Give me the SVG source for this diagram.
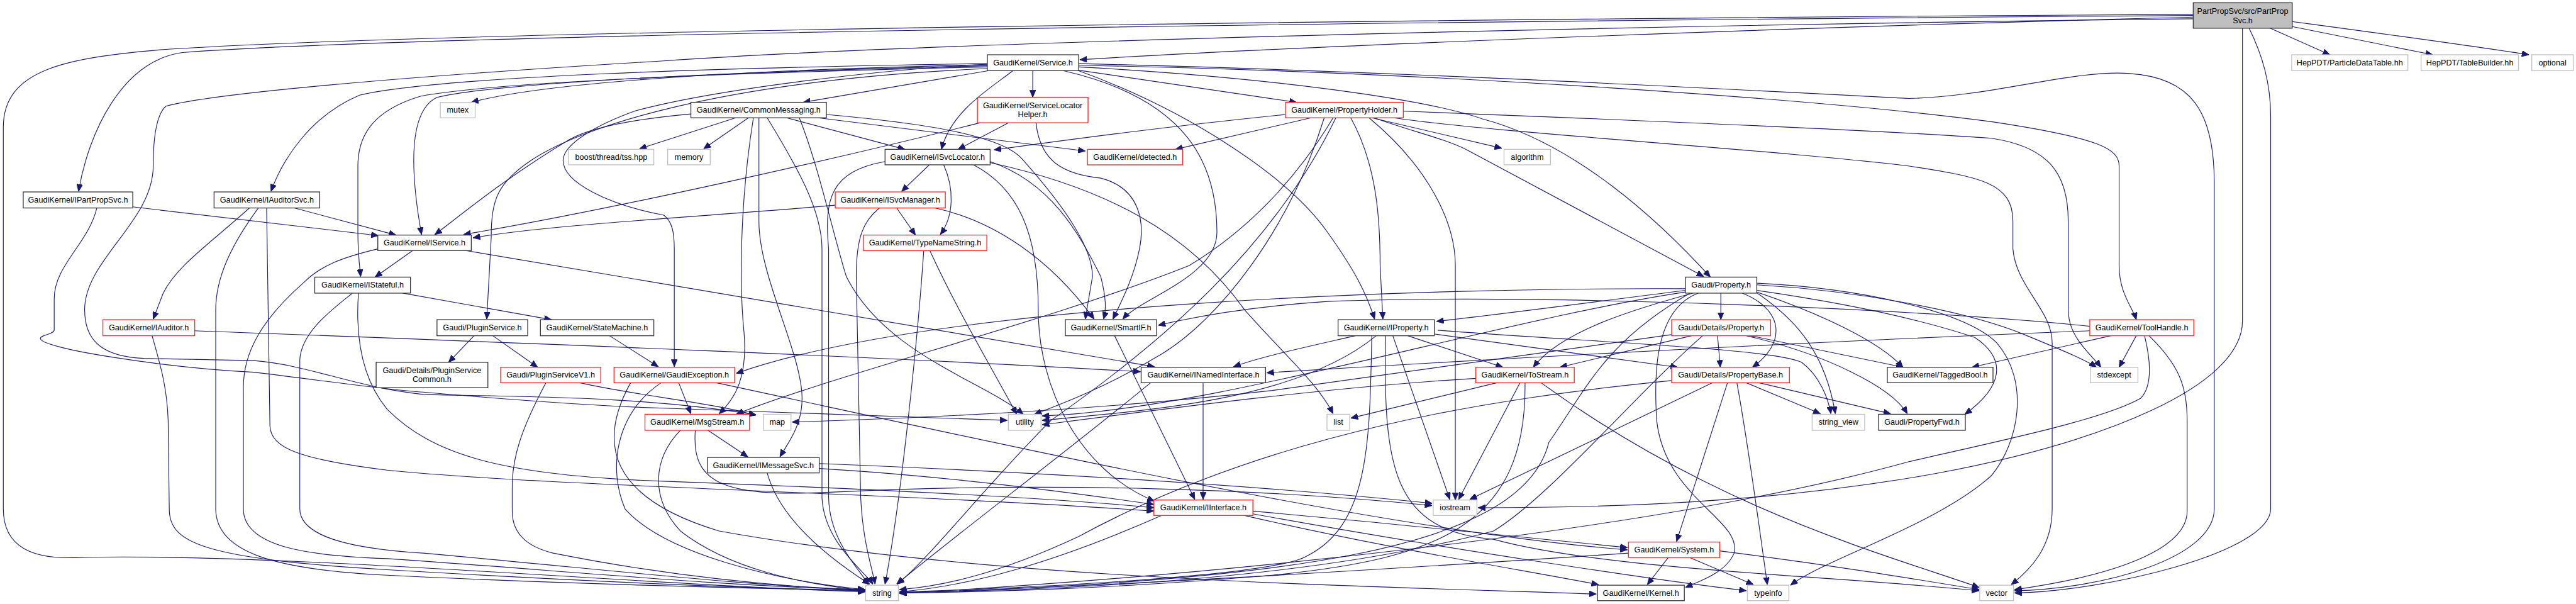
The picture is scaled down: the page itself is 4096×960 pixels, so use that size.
<svg xmlns="http://www.w3.org/2000/svg" width="4096" height="960" viewBox="0 0 4096 960">
<defs>
<marker id="a" viewBox="0 0 13 11" refX="13" refY="5.5" markerWidth="13" markerHeight="11" markerUnits="userSpaceOnUse" orient="auto"><path d="M0,0 L13,5.5 L0,11 z" fill="#191970" stroke="#191970" stroke-width="1"/></marker>
<style>
.n rect{fill:#fff;stroke-width:1.5}
.k rect{stroke:#333}
.r rect{stroke:#ff2020}
.g rect{stroke:#bfbfbf}
text{font-family:"Liberation Sans",Arial,sans-serif;font-size:14.4px;text-anchor:middle;fill:#000}
.e path{fill:none;stroke:#191970;stroke-width:1.3;marker-end:url(#a)}
</style>
</defs>
<rect width="4096" height="960" fill="#fff"/>
<g transform="scale(0.87954,0.87912)">
<g id="connectors" class="e">
<path d="M3965,31 C3400,45 2400,80 1952,108"/>
<path d="M3965,28 C2600,38 800,60 330,95 C220,110 160,240 142,346"/>
<path d="M3965,26 C2600,34 800,55 290,90 C120,105 6,125 6,230 L6,920 C6,990 60,1012 140,1008 C500,998 1200,1060 1564,1070"/>
<path d="M3965,34 C3000,45 1700,75 1200,110 C700,140 380,170 300,192 C285,205 277,240 277,300 C277,400 153,470 153,560 C153,620 190,645 260,648 L459,652 C560,660 640,700 765,713 C950,718 1150,715 1367,750"/>
<path d="M4104,51 L4212,99"/>
<path d="M4144,48 L4398,99"/>
<path d="M4144,39 C4300,60 4450,80 4572,99"/>
<path d="M4054,51 L4054,580 C4054,700 3800,800 3500,856 C3200,910 2900,918 2672,918"/>
<path d="M4066,51 C4090,100 4105,150 4105,210 L4105,920 C4105,1000 3800,1070 3642,1072"/>
<path d="M1785,117 C1400,125 1000,145 852,185"/>
<path d="M1786,128 L1452,185"/>
<path d="M1867,128 L1867,176"/>
<path d="M1950,127 L2344,185"/>
<path d="M1785,115 C1300,122 800,138 650,172 C560,210 510,290 490,346"/>
<path d="M1785,119 C1300,130 900,150 790,176 C740,200 740,300 762,424"/>
<path d="M1785,121 C1300,132 900,148 760,174 C680,198 647,240 647,300 L647,420 C647,460 650,480 652,500"/>
<path d="M1831,128 C1790,160 1720,200 1702,270"/>
<path d="M1923,128 C2150,180 2200,300 2200,420 C2200,500 2060,540 2030,577"/>
<path d="M1950,121 C2300,140 2580,180 2680,215 C2850,260 3000,400 3092,501"/>
<path d="M1945,126 C2150,200 2330,320 2400,420 C2450,490 2470,530 2485,577"/>
<path d="M1950,118 C2600,130 3300,180 3600,220 C3800,250 3831,270 3831,300 L3831,480 C3831,530 3855,555 3862,578"/>
<path d="M1950,115 C2500,128 3100,160 3450,178 C3600,175 3750,125 3850,133 C3960,140 4003,200 4003,330 L4003,920 C4003,1010 3800,1065 3642,1068"/>
<path d="M1785,116 C1600,125 1300,160 1150,200 C1080,225 1018,260 1018,290 C1018,330 1100,370 1200,389 C1215,400 1219,420 1219,450 L1219,663"/>
<path d="M1785,124 C1300,145 1050,230 960,290 C900,330 888,360 888,430 L880,577"/>
<path d="M1330,213 L1156,269"/>
<path d="M1353,213 L1272,269"/>
<path d="M1422,213 L1636,270"/>
<path d="M1479,213 L1962,273"/>
<path d="M1249,206 C1150,215 1070,230 1030,252 C900,330 820,400 786,424"/>
<path d="M1362,213 C1340,350 1335,500 1345,600 C1352,680 1330,720 1300,748"/>
<path d="M1372,213 L1372,400 C1372,500 1450,640 1450,720 C1450,770 1425,800 1410,826"/>
<path d="M1387,213 C1440,300 1486,380 1486,450 L1486,900 C1490,980 1560,1030 1578,1056"/>
<path d="M1494,207 C1700,225 1820,250 1850,290 C1930,380 1975,450 1975,500 L1962,577"/>
<path d="M1445,213 C1480,300 1505,420 1530,500 C1600,640 1780,690 1850,749"/>
<path d="M1823,222 L1732,270"/>
<path d="M1772,222 C1500,290 1100,380 838,424"/>
<path d="M1873,222 C1880,290 1920,315 1990,322 C2060,340 2070,400 2060,450 C2050,500 2030,540 2012,577"/>
<path d="M1680,298 L1630,346"/>
<path d="M1706,298 C1725,340 1725,390 1700,424"/>
<path d="M1790,292 C1900,330 1950,420 1990,500 C2000,540 2000,560 1995,577"/>
<path d="M1600,292 C1500,310 1490,360 1498,450 L1498,900 C1500,980 1555,1030 1570,1057"/>
<path d="M1760,298 C1840,340 1877,420 1877,560 C1877,700 1950,850 2087,906"/>
<path d="M1790,294 C2000,340 2150,420 2250,560 C2320,640 2380,690 2410,748"/>
<path d="M1510,371 C1300,390 1000,405 855,430"/>
<path d="M1621,376 L1655,425"/>
<path d="M1590,376 C1560,400 1548,430 1548,500 L1556,900 C1560,980 1575,1020 1582,1056"/>
<path d="M1690,376 C1800,400 1900,470 1978,577"/>
<path d="M1670,453 C1660,600 1630,900 1600,1056"/>
<path d="M1681,453 C1730,560 1790,660 1838,749"/>
<path d="M2370,213 L2125,270"/>
<path d="M2324,207 C2100,230 1950,250 1797,271"/>
<path d="M2480,213 L2715,268"/>
<path d="M2442,213 C2490,300 2495,400 2495,480 L2500,577"/>
<path d="M2475,213 C2580,300 2631,400 2631,480 L2631,904"/>
<path d="M2484,213 C2560,240 2610,250 2652,271 L3080,500"/>
<path d="M2537,201 C2900,215 3400,235 3600,250 C3700,265 3739,310 3739,400 L3739,560 C3739,610 3780,640 3798,664"/>
<path d="M2520,213 C2700,240 3200,270 3450,300 C3580,320 3639,330 3639,400 L3639,450 C3645,520 3710,560 3710,620 L3710,920 C3710,990 3670,1030 3636,1057"/>
<path d="M2410,213 C2340,330 2250,420 2150,480 C1900,580 1500,680 1331,749"/>
<path d="M2415,213 C2300,450 2100,620 1900,760 C1780,880 1680,1010 1622,1056"/>
<path d="M2394,213 C2330,420 2200,580 2100,640 C2000,700 1920,730 1870,749"/>
<path d="M240,374 L684,426"/>
<path d="M175,376 C160,440 98,480 98,540 L98,596 C98,605 73,605 73,612 C73,630 300,665 459,673 C600,690 700,705 765,709 C950,725 1100,735 1200,738 C1500,748 1700,755 1821,760"/>
<path d="M532,376 L716,425"/>
<path d="M451,376 C380,440 320,480 295,530 L277,577"/>
<path d="M467,376 C420,440 390,500 390,560 L390,920 C390,1000 500,1030 700,1040 C1000,1055 1300,1062 1564,1068"/>
<path d="M482,376 L488,770 C490,810 540,830 700,850 C1000,880 1600,890 2086,924"/>
<path d="M746,453 L678,501"/>
<path d="M842,453 L2087,663"/>
<path d="M683,450 C620,465 580,480 550,510 C470,580 440,640 440,700 L440,920 C440,990 560,1005 700,1010 C1000,1030 1300,1060 1564,1066"/>
<path d="M728,530 L997,578"/>
<path d="M648,530 C643,600 650,680 700,740 C780,820 900,860 1200,870 C1600,885 1900,900 2086,918"/>
<path d="M637,530 C600,560 545,600 542,650 L542,920 C542,960 600,990 765,1000 C1100,1030 1350,1060 1564,1066"/>
<path d="M352,598 C800,615 1500,640 2062,672"/>
<path d="M275,607 C290,660 302,700 304,760 L306,920 C306,980 360,1010 700,1030 C1000,1048 1300,1062 1564,1068"/>
<path d="M857,607 L811,655"/>
<path d="M891,607 L972,664"/>
<path d="M1102,607 L1190,663"/>
<path d="M987,692 C940,780 926,830 926,880 L926,924 C926,970 960,990 1000,1000 C1200,1040 1400,1060 1564,1068"/>
<path d="M1048,692 C1150,715 1300,730 1366,751"/>
<path d="M1227,692 L1249,748"/>
<path d="M1195,692 C1110,750 1100,850 1130,920 C1200,1000 1400,1050 1564,1066"/>
<path d="M1295,692 C1800,800 2500,960 2942,994"/>
<path d="M1140,692 C1080,800 1100,900 1300,960 C1800,1050 2500,1060 2886,1074"/>
<path d="M1280,778 L1352,826"/>
<path d="M1230,778 C1180,830 1175,900 1230,960 C1320,1030 1450,1055 1564,1068"/>
<path d="M1257,778 C1250,870 1300,900 1500,890 C1900,870 2300,885 2589,914"/>
<path d="M1387,855 C1410,940 1500,1010 1572,1056"/>
<path d="M1481,847 C1700,860 1900,885 2086,912"/>
<path d="M1481,838 C1900,855 2300,880 2589,910"/>
<path d="M2015,607 L2160,903"/>
<path d="M2175,692 L2175,903"/>
<path d="M2080,692 C1950,800 1750,950 1621,1056"/>
<path d="M2265,924 C2500,945 2800,975 2942,990"/>
<path d="M2250,932 C2500,990 2750,1030 2890,1057"/>
<path d="M2100,932 C1900,1020 1750,1060 1626,1070"/>
<path d="M2265,929 C2600,990 3000,1050 3157,1068"/>
<path d="M2545,607 L2717,664"/>
<path d="M2594,604 L3033,664"/>
<path d="M2450,607 C2350,630 2280,645 2230,663"/>
<path d="M2518,607 L2621,903"/>
<path d="M2480,607 C2476,800 2476,950 2361,1006 C2300,1040 1900,1062 1626,1070"/>
<path d="M2488,607 C2350,720 2100,740 1884,760"/>
<path d="M2505,607 C2500,850 2520,960 2700,975 C2900,1030 3300,1040 3578,1068"/>
<path d="M2599,597 C2900,620 3200,630 3257,655 C3290,680 3305,720 3310,748"/>
<path d="M3111,530 L3111,578"/>
<path d="M3150,530 C3225,560 3230,620 3168,664"/>
<path d="M3047,525 C2850,550 2700,570 2597,581"/>
<path d="M3060,530 C2950,560 2820,600 2772,664"/>
<path d="M3047,522 C2600,520 1700,545 1331,675"/>
<path d="M3047,528 C2700,580 2200,740 1884,752"/>
<path d="M3055,530 C2900,620 2870,700 2800,800 C2750,1000 2300,1050 1626,1072"/>
<path d="M3177,530 C3250,580 3300,640 3318,748"/>
<path d="M3176,528 C3300,570 3400,620 3440,664"/>
<path d="M3176,525 C3350,550 3480,580 3570,610 C3630,650 3620,700 3552,749"/>
<path d="M3176,515 C3350,525 3550,560 3660,605 C3720,630 3770,650 3790,664"/>
<path d="M3176,512 C3350,520 3550,560 3610,620 C3670,690 3650,800 3600,860 C3500,950 3300,1010 3237,1058"/>
<path d="M3070,530 C2990,560 2990,680 2995,760 C3010,900 3150,940 3135,1000 C3120,1035 3075,1050 3047,1062"/>
<path d="M3105,607 L3110,664"/>
<path d="M3058,607 L2820,664"/>
<path d="M3165,607 L3441,664"/>
<path d="M3157,607 C3300,640 3420,700 3448,748"/>
<path d="M3022,605 L2300,706 C2000,740 1700,755 1432,763"/>
<path d="M3078,607 C2950,720 2800,900 2700,960 C2400,1040 2000,1066 1626,1071"/>
<path d="M3778,590 C3500,560 2800,530 2400,545 C2250,555 2150,575 2094,588"/>
<path d="M3778,598 C3600,605 3000,630 2290,674"/>
<path d="M3816,607 L3565,664"/>
<path d="M3862,607 L3831,664"/>
<path d="M3885,607 C3940,660 3954,700 3954,760 L3954,924 C3954,990 3835,1039 3642,1066"/>
<path d="M3877,607 C3890,660 3889,700 3870,720 C3800,760 3600,800 3450,835 C3000,960 2200,1040 1626,1073"/>
<path d="M2706,692 L2442,756"/>
<path d="M2748,692 L2637,903"/>
<path d="M2757,692 C2760,950 2600,1010 2300,1040 C2000,1065 1800,1070 1626,1072"/>
<path d="M2786,692 C3100,920 3400,1000 3578,1062"/>
<path d="M2668,684 C2400,700 2100,740 1884,768"/>
<path d="M3096,692 L2657,903"/>
<path d="M3123,692 L3031,979"/>
<path d="M3140,692 C3160,800 3180,950 3195,1057"/>
<path d="M3157,692 L3291,748"/>
<path d="M3180,692 L3418,748"/>
<path d="M3022,688 C2700,720 2300,780 1950,970 C1800,1040 1700,1060 1626,1066"/>
<path d="M3016,1008 L2978,1057"/>
<path d="M3055,1008 L3170,1057"/>
<path d="M3109,996 C3300,1020 3450,1045 3578,1066"/>
<path d="M2944,1000 C2500,1030 2000,1060 1626,1072"/>
</g>
<g id="n_partpropsvc" class="n k"><rect x="3965" y="5" width="179" height="46" style="fill:#bfbfbf"/><text x="4054.5" y="25">PartPropSvc/src/PartProp</text><text x="4054.5" y="42">Svc.h</text></g>
<g id="n_service" class="n k"><rect x="1785" y="99" width="165" height="28.5"/><text x="1867.5" y="118">GaudiKernel/Service.h</text></g>
<g id="n_particledatatable" class="n g"><rect x="4143" y="99" width="210" height="28.5"/><text x="4248" y="118">HepPDT/ParticleDataTable.hh</text></g>
<g id="n_tablebuilder" class="n g"><rect x="4377" y="99" width="176" height="28.5"/><text x="4465" y="118">HepPDT/TableBuilder.hh</text></g>
<g id="n_optional" class="n g"><rect x="4577" y="99" width="75" height="28.5"/><text x="4614.5" y="118">optional</text></g>
<g id="n_mutex" class="n g"><rect x="796" y="185" width="63" height="28"/><text x="827.5" y="204">mutex</text></g>
<g id="n_commonmessaging" class="n k"><rect x="1249" y="185" width="245" height="28"/><text x="1371.5" y="204">GaudiKernel/CommonMessaging.h</text></g>
<g id="n_servicelocatorhelper" class="n r"><rect x="1767" y="176" width="200" height="46"/><text x="1867" y="196">GaudiKernel/ServiceLocator</text><text x="1867" y="212">Helper.h</text></g>
<g id="n_propertyholder" class="n r"><rect x="2324" y="185" width="213" height="28"/><text x="2430.5" y="204">GaudiKernel/PropertyHolder.h</text></g>
<g id="n_tss" class="n g"><rect x="1028" y="270" width="154" height="28"/><text x="1105" y="289">boost/thread/tss.hpp</text></g>
<g id="n_memory" class="n g"><rect x="1207" y="270" width="77" height="28"/><text x="1245.5" y="289">memory</text></g>
<g id="n_isvclocator" class="n k"><rect x="1600" y="270" width="190" height="28"/><text x="1695" y="289">GaudiKernel/ISvcLocator.h</text></g>
<g id="n_detected" class="n r"><rect x="1966" y="270" width="172" height="28"/><text x="2052" y="289">GaudiKernel/detected.h</text></g>
<g id="n_algorithm" class="n g"><rect x="2719" y="270" width="84" height="28"/><text x="2761" y="289">algorithm</text></g>
<g id="n_ipartpropsvc" class="n k"><rect x="42" y="347" width="198" height="29"/><text x="141" y="366">GaudiKernel/IPartPropSvc.h</text></g>
<g id="n_iauditorsvc" class="n k"><rect x="387" y="347" width="191" height="29"/><text x="482.5" y="366">GaudiKernel/IAuditorSvc.h</text></g>
<g id="n_isvcmanager" class="n r"><rect x="1510" y="347" width="199" height="29"/><text x="1609.5" y="366">GaudiKernel/ISvcManager.h</text></g>
<g id="n_iservice" class="n k"><rect x="683" y="425" width="169" height="28"/><text x="767.5" y="444">GaudiKernel/IService.h</text></g>
<g id="n_typenamestring" class="n r"><rect x="1561" y="425" width="223" height="28"/><text x="1672.5" y="444">GaudiKernel/TypeNameString.h</text></g>
<g id="n_istateful" class="n k"><rect x="569" y="501" width="173" height="29"/><text x="655.5" y="520">GaudiKernel/IStateful.h</text></g>
<g id="n_gaudiproperty" class="n k"><rect x="3047" y="501" width="129" height="29"/><text x="3111.5" y="520">Gaudi/Property.h</text></g>
<g id="n_iauditor" class="n r"><rect x="186" y="578" width="166" height="29"/><text x="269" y="597">GaudiKernel/IAuditor.h</text></g>
<g id="n_pluginservice" class="n k"><rect x="790" y="578" width="164" height="29"/><text x="872" y="597">Gaudi/PluginService.h</text></g>
<g id="n_statemachine" class="n k"><rect x="977" y="578" width="205" height="29"/><text x="1079.5" y="597">GaudiKernel/StateMachine.h</text></g>
<g id="n_smartif" class="n k"><rect x="1926" y="578" width="165" height="29"/><text x="2008.5" y="597">GaudiKernel/SmartIF.h</text></g>
<g id="n_iproperty" class="n k"><rect x="2419" y="578" width="174" height="29"/><text x="2506" y="597">GaudiKernel/IProperty.h</text></g>
<g id="n_detailsproperty" class="n r"><rect x="3022" y="578" width="179" height="29"/><text x="3111.5" y="597">Gaudi/Details/Property.h</text></g>
<g id="n_toolhandle" class="n r"><rect x="3778" y="578" width="188" height="29"/><text x="3872" y="597">GaudiKernel/ToolHandle.h</text></g>
<g id="n_pluginservicecommon" class="n k"><rect x="680" y="655" width="202" height="46"/><text x="781" y="675">Gaudi/Details/PluginService</text><text x="781" y="691">Common.h</text></g>
<g id="n_pluginservicev1" class="n r"><rect x="905" y="664" width="181" height="28"/><text x="995.5" y="683">Gaudi/PluginServiceV1.h</text></g>
<g id="n_gaudiexception" class="n r"><rect x="1110" y="664" width="218" height="28"/><text x="1219" y="683">GaudiKernel/GaudiException.h</text></g>
<g id="n_inamedinterface" class="n k"><rect x="2063" y="664" width="225" height="28"/><text x="2175.5" y="683">GaudiKernel/INamedInterface.h</text></g>
<g id="n_tostream" class="n r"><rect x="2668" y="664" width="178" height="28"/><text x="2757" y="683">GaudiKernel/ToStream.h</text></g>
<g id="n_propertybase" class="n r"><rect x="3022" y="664" width="213" height="28"/><text x="3128.5" y="683">Gaudi/Details/PropertyBase.h</text></g>
<g id="n_taggedbool" class="n k"><rect x="3412" y="664" width="191" height="28"/><text x="3507.5" y="683">GaudiKernel/TaggedBool.h</text></g>
<g id="n_stdexcept" class="n g"><rect x="3779" y="664" width="86" height="28"/><text x="3822" y="683">stdexcept</text></g>
<g id="n_msgstream" class="n r"><rect x="1166" y="749" width="189" height="29"/><text x="1260.5" y="768">GaudiKernel/MsgStream.h</text></g>
<g id="n_map" class="n g"><rect x="1380" y="749" width="50" height="29"/><text x="1405" y="768">map</text></g>
<g id="n_utility" class="n g"><rect x="1823" y="749" width="59" height="29"/><text x="1852.5" y="768">utility</text></g>
<g id="n_list" class="n g"><rect x="2399" y="749" width="41" height="29"/><text x="2419.5" y="768">list</text></g>
<g id="n_string_view" class="n g"><rect x="3276" y="749" width="95" height="29"/><text x="3323.5" y="768">string_view</text></g>
<g id="n_propertyfwd" class="n k"><rect x="3396" y="749" width="157" height="29"/><text x="3474.5" y="768">Gaudi/PropertyFwd.h</text></g>
<g id="n_imessagesvc" class="n k"><rect x="1279" y="827" width="202" height="28"/><text x="1380" y="846">GaudiKernel/IMessageSvc.h</text></g>
<g id="n_iinterface" class="n r"><rect x="2086" y="904" width="179" height="28"/><text x="2175.5" y="923">GaudiKernel/IInterface.h</text></g>
<g id="n_iostream" class="n g"><rect x="2591" y="904" width="79" height="28"/><text x="2630.5" y="923">iostream</text></g>
<g id="n_system" class="n r"><rect x="2944" y="980" width="165" height="28"/><text x="3026.5" y="999">GaudiKernel/System.h</text></g>
<g id="n_string" class="n g"><rect x="1565" y="1058" width="59" height="28"/><text x="1594.5" y="1077">string</text></g>
<g id="n_kernel" class="n k"><rect x="2888" y="1058" width="157" height="28"/><text x="2966.5" y="1077">GaudiKernel/Kernel.h</text></g>
<g id="n_typeinfo" class="n g"><rect x="3159" y="1058" width="75" height="28"/><text x="3196.5" y="1077">typeinfo</text></g>
<g id="n_vector" class="n g"><rect x="3579" y="1058" width="61" height="28"/><text x="3609.5" y="1077">vector</text></g>
</g>
</svg>
